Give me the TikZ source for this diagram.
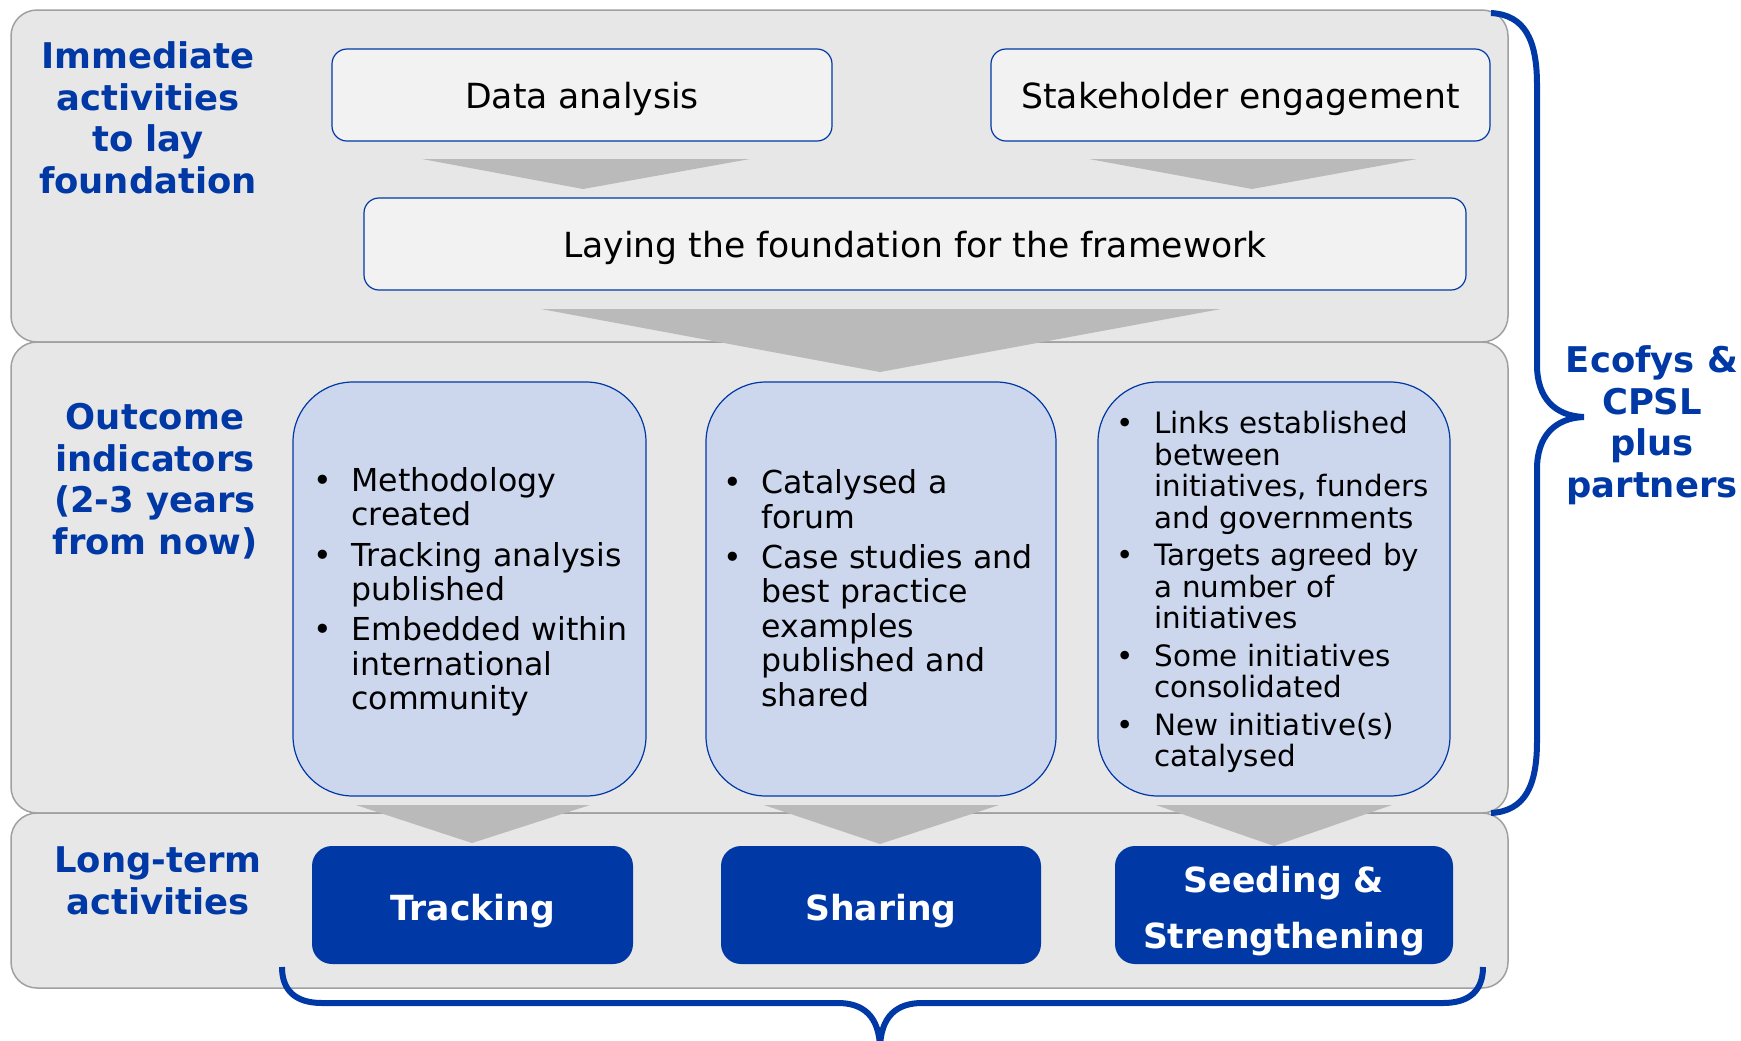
\documentclass[tikz,border=0pt]{standalone}
\usepackage{fontspec}
\setmainfont{DejaVu Sans}
\usetikzlibrary{calc}
\definecolor{ebl}{RGB}{0,57,166}
\definecolor{panel}{RGB}{231,231,231}
\definecolor{panelbd}{RGB}{160,160,160}
\definecolor{lbox}{RGB}{242,242,242}
\definecolor{obox}{RGB}{204,215,238}
\definecolor{chev}{RGB}{185,186,185}
\newcommand\bitem[1]{\par\noindent\hangindent=19pt\hangafter=1\makebox[19pt][l]{•}#1}
\tikzset{
  panelbox/.style={draw=panelbd, fill=panel, line width=0.75pt, rounded corners=13pt, inner sep=0pt, minimum width=748.5pt},
  topbox/.style={draw=ebl, fill=lbox, line width=0.6pt, rounded corners=7.5pt, minimum height=46pt, inner sep=0pt, text height=13pt, text depth=0pt, font=\fontsize{17.3}{20}\selectfont},
  outbox/.style={draw=ebl, fill=obox, line width=0.6pt, rounded corners=30pt, minimum height=207pt, inner sep=0pt},
  actbox/.style={fill=ebl, rounded corners=10pt, minimum height=59pt, inner sep=0pt},
  acttext/.style={inner sep=0pt, text=white, font=\bfseries\fontsize{17.3}{28}\selectfont, align=center},
  rowlabel/.style={text=ebl, font=\bfseries\fontsize{17.7}{20.75}\selectfont, align=center, inner sep=0pt},
  bulletsA/.style={anchor=west, inner sep=0pt, align=left, text width=#1, font=\fontsize{15.8}{17.2}\selectfont\setlength\parskip{3pt}},
  bulletsB/.style={anchor=west, inner sep=0pt, align=left, text width=#1, font=\fontsize{14.7}{15.75}\selectfont\setlength\parskip{3pt}},
  chevron/.style={fill=chev},
  bracepath/.style={draw=ebl, line width=3pt},
}
\begin{document}
\begin{tikzpicture}[x=0.5pt,y=-0.5pt]
\useasboundingbox (0,0) rectangle (1741,1040);
% panels
\node[panelbox, minimum height=166pt] (p1) at (759.5,176) {};
\node[panelbox, minimum height=235.5pt] (p2) at (759.5,577.5) {};
\node[panelbox, minimum height=87.5pt] (p3) at (759.5,900.5) {};
% row labels
\node[rowlabel] (l1) at (148,118) {Immediate\\activities\\to lay\\foundation};
\node[rowlabel] (l2) at (155,481) {Outcome\\indicators\\(2-3 years\\from now)};
\node[rowlabel] (l3) at (158,881) {Long-term\\activities};
\node[rowlabel] (l4) at (1652,425) {Ecofys \&\\CPSL\\plus\\partners};
% top boxes
\node[topbox, minimum width=250pt] (da) at (582,95) {Data analysis};
\node[topbox, minimum width=249.5pt] (se) at (1240.5,95) {Stakeholder engagement};
\node[topbox, minimum width=551pt] (lf) at (915,244) {Laying the foundation for the framework};
% chevrons
\fill[chevron] (422,159) -- (750,159) -- (583,189) -- cycle;
\fill[chevron] (1089,159) -- (1417,159) -- (1252,189) -- cycle;
\fill[chevron] (541,309) -- (1221,309) -- (880,372) -- cycle;
% outcome boxes
\node[outbox, minimum width=176.5pt] (o1) at (469.5,589) {};
\node[outbox, minimum width=175pt] (o2) at (881,589) {};
\node[outbox, minimum width=176pt] (o3) at (1274,589) {};
\node[bulletsA=168pt] (t1) at (313,583.5) {%
\bitem{Methodology\newline created}
\bitem{Tracking analysis\newline published}
\bitem{Embedded within\newline international\newline community}\par};
\node[bulletsA=168pt] (t2) at (723,580) {%
\bitem{Catalysed a\newline forum}
\bitem{Case studies and\newline best practice\newline examples\newline published and\newline shared}\par};
\node[bulletsB=168pt] (t3) at (1116,584.5) {%
\bitem{Links established\newline between\newline initiatives, funders\newline and governments}
\bitem{Targets agreed by\newline a number of\newline initiatives}
\bitem{Some initiatives\newline consolidated}
\bitem{New initiative(s)\newline catalysed}\par};
% lower chevrons
\fill[chevron] (356,805) -- (590,805) -- (472,843) -- cycle;
\fill[chevron] (764,805) -- (999,805) -- (880,844) -- cycle;
\fill[chevron] (1156,805) -- (1392,805) -- (1274,846) -- cycle;
% activity boxes
\node[actbox, minimum width=160.5pt] (tr) at (472.5,905) {};
\node[actbox, minimum width=160pt] (sh) at (881,905) {};
\node[actbox, minimum width=169pt] (ss) at (1284,905) {};
\node[acttext] (trt) at ($(tr.center)+(0,6)$) {Tracking};
\node[acttext] (sht) at ($(sh.center)+(0,6)$) {Sharing};
\node[acttext] (sst) at ($(ss.center)+(0,6)$) {Seeding \&\\Strengthening};
% braces
\draw[bracepath] (1491,13) .. controls (1525,15) and (1537,40) .. (1537,85) -- (1537,365) .. controls (1537,398) and (1555,416) .. (1584,417);
\draw[bracepath] (1491,813) .. controls (1525,811) and (1537,786) .. (1537,741) -- (1537,469) .. controls (1537,436) and (1555,418) .. (1584,417);
\draw[bracepath] (282,967) .. controls (282,990) and (295,1003) .. (322,1003) -- (838,1003) .. controls (862,1003) and (880,1015) .. (880,1050);
\draw[bracepath] (1483,967) .. controls (1483,990) and (1470,1003) .. (1443,1003) -- (922,1003) .. controls (898,1003) and (880,1015) .. (880,1050);
\end{tikzpicture}
\end{document}
